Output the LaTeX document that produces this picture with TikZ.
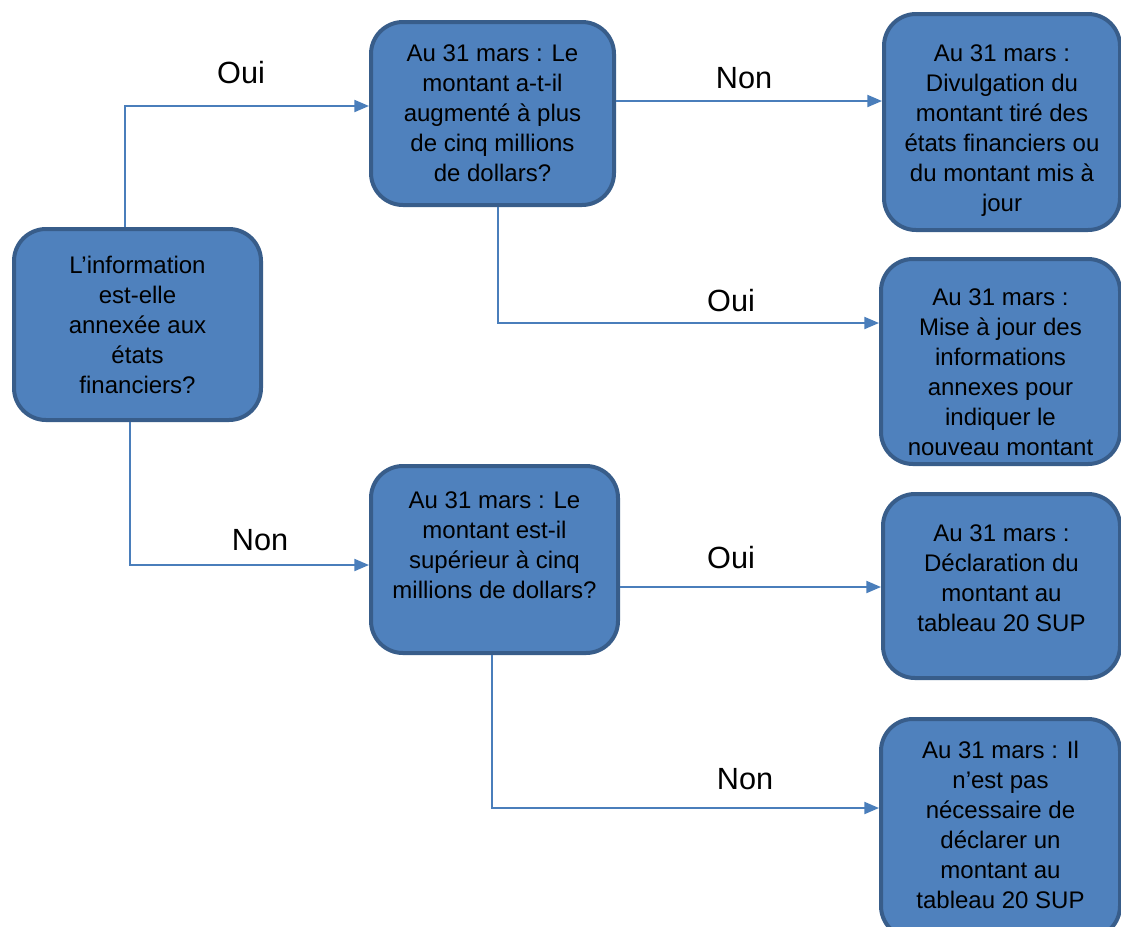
\documentclass[tikz,border=0pt]{standalone}
\usepackage{fontspec}
\setmainfont{Liberation Sans}
\usepackage{tikz}
\usetikzlibrary{arrows.meta}
\usetikzlibrary{calc}
\usepackage{xcolor}
\definecolor{boxfill}{HTML}{4F81BD}
\definecolor{boxline}{HTML}{385D8A}
\definecolor{flow}{HTML}{4A7EBB}
\newcommand{\haut}[1]{\rule{0pt}{#1}}
\newcommand{\bas}[1]{\rule[-#1]{0pt}{0pt}}
\tikzset{
  etape/.style={draw=boxline, line width=3pt, fill=boxfill, rounded corners=24pt,
    align=center, inner sep=0pt, font=\fontsize{18pt}{22.5pt}\selectfont},
  fleche/.style={draw=flow, line width=1.5pt, -{Triangle[length=11pt,width=9pt]}},
  rep/.style={inner sep=0pt, font=\fontsize{23pt}{27pt}\selectfont}
}

\begin{document}
\begin{tikzpicture}[x=0.75pt, y=-0.75pt]
                \useasboundingbox (0,0) rectangle (1121,926);
                \clip (0,0) rectangle (1121,926);
                % boxes
                \node[etape, minimum width=185.25pt, minimum height=143.25pt] (info) at (137.5,324.5)
                    {L’information\\est-elle\\annexée aux\\états\\financiers?};
                \node[etape, minimum width=182.25pt, minimum height=137.25pt] (augm) at (492.5,113.5)
                    {Au 31 mars : Le\\montant a-t-il\\augmenté à plus\\de cinq millions\\de dollars?};
                \node[etape, minimum width=185.25pt, minimum height=140.25pt] (sup) at (494.5,559.5)
                    {Au 31 mars : Le\\montant est-il\\supérieur à cinq\\millions de dollars?\bas{21pt}};
                \node[etape, minimum width=177pt, minimum height=162pt] (divul) at (1002,122)
                    {\haut{25pt}Au 31 mars :\\Divulgation du\\montant tiré des\\états financiers ou\\du montant mis à\\jour};
                \node[etape, minimum width=179.25pt, minimum height=153.75pt] (maj) at (1000.5,361.5)
                    {\haut{29pt}Au 31 mars :\\Mise à jour des\\informations\\annexes pour\\indiquer le\\nouveau montant};
                \node[etape, minimum width=177.75pt, minimum height=138pt] (decl) at (1001.5,586)
                    {Au 31 mars :\\Déclaration du\\montant au\\tableau 20 SUP\bas{12pt}};
                \node[etape, minimum width=179.25pt, minimum height=164.25pt] (nonreq) at (1000.5,828.5)
                    {Au 31 mars : Il\\n’est pas\\nécessaire de\\déclarer un\\montant au\\tableau 20 SUP\bas{6pt}};

                % connectors
                \draw[fleche] ($(info.north)+(-12.5,0)$) |- ($(augm.west)+(0,-7.5)$);
                \draw[fleche] ($(info.south)+(-7.5,0)$) |- ($(sup.west)+(0,5.5)$);
                \draw[fleche] ($(augm.east)+(0,-12.5)$) coordinate (a1) -- (a1 -| divul.west);
                \draw[fleche] ($(augm.south)+(5.5,0)$) |- ($(maj.west)+(0,-38.5)$);
                \draw[fleche] ($(sup.east)+(0,27.5)$) coordinate (s1) -- (s1 -| decl.west);
                \draw[fleche] ($(sup.south)+(-2.5,0)$) |- ($(nonreq.west)+(0,-20.5)$);

                % answers
                \node[rep] (oui1) at (241,73) {Oui};
                \node[rep] (non1) at (260,540) {Non};
                \node[rep] (non2) at (744,78) {Non};
                \node[rep] (oui2) at (731,301) {Oui};
                \node[rep] (oui3) at (731,558) {Oui};
                \node[rep] (non3) at (745,779) {Non};

            \end{tikzpicture}
\end{document}
